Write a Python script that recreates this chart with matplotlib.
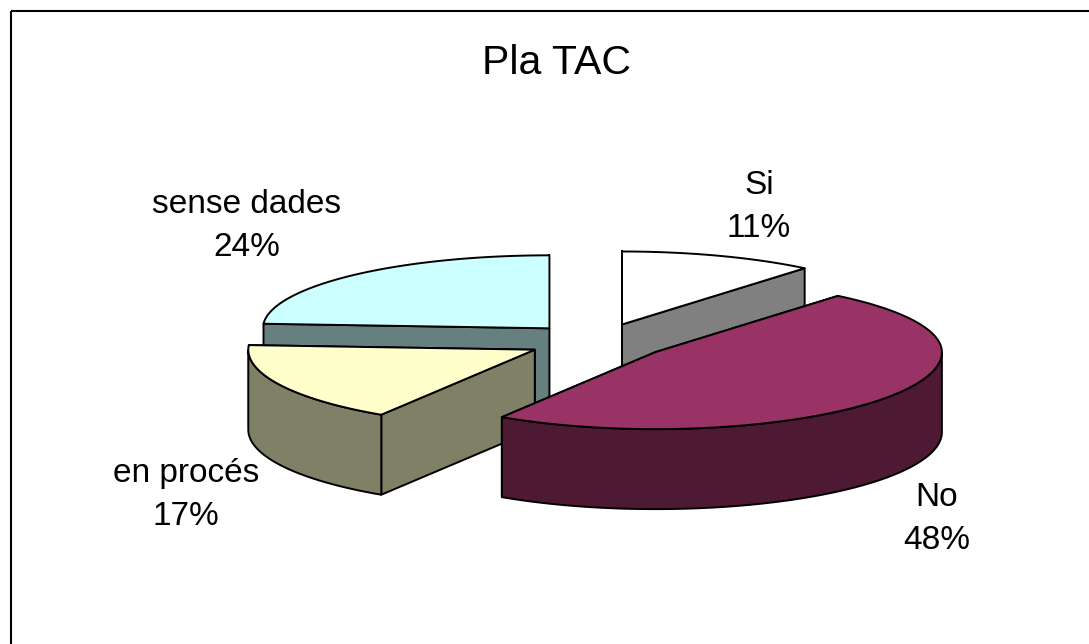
import numpy as np
import matplotlib
matplotlib.use("Agg")
import matplotlib.pyplot as plt
from matplotlib.patches import Polygon

plt.rcParams['font.family'] = ['Liberation Sans', 'DejaVu Sans']

title = "Pla TAC"
categories = ["Si", "No", "en procés", "sense dades"]
values = [11, 48, 17, 24]
top_colors = ["#ffffff", "#993366", "#ffffcc", "#ccffff"]
side_colors = ["#808080", "#4d1933", "#808066", "#668080"]
label_pos = [(759, 207), (937, 519), (186, 495), (247, 226)]

W, H = 1089, 644
CX, CY, RX, RY_BACK, RY_FRONT, DEPTH, EXPLODE = 598.0, 341.5, 286.5, 73, 77, 80, 0.2476

fig = plt.figure(figsize=(W / 100, H / 100), dpi=100)
ax = fig.add_axes([0, 0, 1, 1])
ax.set_xlim(0, W)
ax.set_ylim(H, 0)
ax.axis("off")

EC = dict(edgecolor="black", linewidth=1.4, joinstyle="round")


def pt(theta, ox, oy):
    c = np.cos(theta)
    return ox + RX * np.sin(theta), oy - np.where(c > 0, RY_BACK, RY_FRONT) * c


def slice_geometry(start, end):
    a0, a1 = np.radians(start), np.radians(end)
    mid = (a0 + a1) / 2
    ox = CX + EXPLODE * RX * np.sin(mid)
    oy = CY - EXPLODE * RY_BACK * np.cos(mid)
    t = np.linspace(a0, a1, 120)
    ax_, ay_ = pt(t, ox, oy)
    return a0, a1, ox, oy, ax_, ay_


def quad(x0, y0, x1, y1, color, z):
    ax.add_patch(Polygon([(x0, y0), (x1, y1), (x1, y1 + DEPTH), (x0, y0 + DEPTH)],
                         facecolor=color, zorder=z, **EC))


def draw_slice(start, end, top, side, z):
    a0, a1, ox, oy, xs, ys = slice_geometry(start, end)
    # cut faces, drawn from back to front
    faces = [(xs[0], ys[0]), (xs[-1], ys[-1])]
    faces.sort(key=lambda p: p[1])
    for fx, fy in faces:
        quad(ox, oy, fx, fy, side, z)
    # outer rim: only the part of the arc that faces the viewer
    t = np.linspace(a0, a1, 240)
    front = np.cos(t) < 0
    if front.any():
        rx_, ry_ = pt(t[front], ox, oy)
        rim = np.vstack([np.column_stack([rx_, ry_]),
                         np.column_stack([rx_[::-1], ry_[::-1] + DEPTH])])
        ax.add_patch(Polygon(rim, facecolor=side, zorder=z, **EC))
    ax.add_patch(Polygon(np.vstack([[ox, oy], np.column_stack([xs, ys])]),
                         facecolor=top, zorder=z, **EC))


starts = np.cumsum([0] + values[:-1]) * 360 / sum(values)
ends = np.cumsum(values) * 360 / sum(values)
order = {3: 1, 0: 2, 2: 3, 1: 4}
for i, z in order.items():
    draw_slice(starts[i], ends[i], top_colors[i], side_colors[i], z)

for (x, y), cat, v in zip(label_pos, categories, values):
    ax.text(x, y, f"{cat}\n{v}%", ha="center", va="center", fontsize=24,
            linespacing=1.48, color="black", zorder=10)

ax.text(557, 62.5, title, ha="center", va="center", fontsize=29.5, color="black")

# chart frame
ax.plot([10.5, 10.5], [H, 10.5], color="black", lw=1.5, zorder=0, solid_capstyle="butt")
ax.plot([10.5, W], [10.5, 10.5], color="black", lw=1.5, zorder=0, solid_capstyle="butt")

fig.savefig("out.png", dpi=100, facecolor="white")
